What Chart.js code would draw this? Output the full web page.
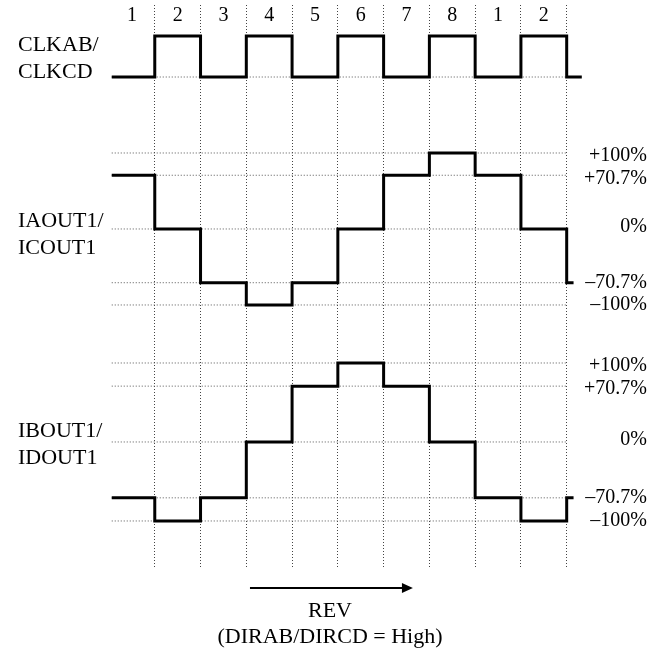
<!DOCTYPE html>
<html>
<head>
<meta charset="utf-8">
<script src="https://cdn.jsdelivr.net/npm/chart.js@4"></script>
<style>
  html, body { margin: 0; padding: 0; background: #fff; }
  #wrap { position: relative; width: 662px; height: 657px; font-family: "Liberation Serif", "Times New Roman", serif; color: #000; }
  canvas { position: absolute; left: 0; top: 0; }
  .sig { position: absolute; left: 18px; font-size: 22px; line-height: 27px; }
  .cap { position: absolute; left: 180px; width: 300px; text-align: center; font-size: 22px; line-height: 26px; }
</style>
</head>
<body>
<div id="wrap">
  <canvas id="timing" width="662" height="657"></canvas>
  <div class="sig" style="top:30px">CLKAB/<br>CLKCD</div>
  <div class="sig" style="top:206px">IAOUT1/<br>ICOUT1</div>
  <div class="sig" style="top:416px">IBOUT1/<br>IDOUT1</div>
  <div class="cap" style="top:597px">REV<br>(DIRAB/DIRCD = High)</div>
</div>
<script>
// step boundaries (one unit = one clock phase)
const stepStarts = [0.06, 1, 2, 3, 4, 5, 6, 7, 8, 9, 10];
const clkEnd = 10.33;
const currentEnd = 10.15;
const gridEnd = 10;

const phaseLabels = ['1', '2', '3', '4', '5', '6', '7', '8', '1', '2'];
const phaseLines = [1, 2, 3, 4, 5, 6, 7, 8, 9, 10];

const clkLevels = [0, 1, 0, 1, 0, 1, 0, 1, 0, 1, 0];
const iaLevels = [70.7, 0, -70.7, -100, -70.7, 0, 70.7, 100, 70.7, 0, -70.7];
const ibLevels = [-70.7, -100, -70.7, 0, 70.7, 100, 70.7, 0, -70.7, -100, -70.7];

const refLevels = [100, 70.7, 0, -70.7, -100];
const refLabels = ['+100%', '+70.7%', '0%', '\u201370.7%', '\u2013100%'];

const arrowSpan = [3.08, 6.64];

function stepData(levels, end) {
  const pts = stepStarts.map((x, i) => ({ x: x, y: levels[i] }));
  pts.push({ x: end, y: levels[levels.length - 1] });
  return pts;
}

function refLine(v, axis) {
  return {
    data: [{ x: stepStarts[0], y: v }, { x: gridEnd, y: v }],
    yAxisID: axis,
    borderColor: '#555',
    borderWidth: 1,
    borderDash: [1, 2],
    pointRadius: 0,
    order: 2
  };
}

function signal(levels, end, axis) {
  return {
    data: stepData(levels, end),
    yAxisID: axis,
    stepped: true,
    borderColor: '#000',
    borderWidth: 3,
    pointRadius: 0,
    borderJoinStyle: 'miter',
    order: 0
  };
}

const datasets = [
  refLine(0, 'yClk'),
  ...refLevels.map(v => refLine(v, 'yA')),
  ...refLevels.map(v => refLine(v, 'yB')),
  signal(clkLevels, clkEnd, 'yClk'),
  signal(iaLevels, currentEnd, 'yA'),
  signal(ibLevels, currentEnd, 'yB')
];

const serif = '"Liberation Serif", "Times New Roman", serif';

const labelPlugin = {
  id: 'labels',
  afterDraw(chart) {
    const ctx = chart.ctx;
    const x = chart.scales.x;
    const area = chart.chartArea;
    ctx.save();
    ctx.fillStyle = '#000';
    ctx.font = '20px ' + serif;
    ctx.textAlign = 'center';
    ctx.textBaseline = 'middle';
    phaseLabels.forEach((t, i) => {
      ctx.fillText(t, x.getPixelForValue(i + 0.5), area.top + 11);
    });
    ctx.textAlign = 'right';
    ['yA', 'yB'].forEach(id => {
      const s = chart.scales[id];
      refLevels.forEach((v, i) => {
        const nudge = v > 0 ? 3 : (v === 0 ? -2 : 0);
        ctx.fillText(refLabels[i], chart.width - 15, s.getPixelForValue(v) + nudge);
      });
    });
    // direction arrow
    const y = area.bottom + 19;
    const x0 = x.getPixelForValue(arrowSpan[0]);
    const x1 = x.getPixelForValue(arrowSpan[1]);
    ctx.strokeStyle = '#000';
    ctx.lineWidth = 2;
    ctx.beginPath();
    ctx.moveTo(x0, y);
    ctx.lineTo(x1 - 8, y);
    ctx.stroke();
    ctx.beginPath();
    ctx.moveTo(x1, y);
    ctx.lineTo(x1 - 11, y - 5);
    ctx.lineTo(x1 - 11, y + 5);
    ctx.closePath();
    ctx.fill();
    ctx.restore();
  }
};

new Chart(document.getElementById('timing'), {
  type: 'line',
  data: { datasets: datasets },
  options: {
    responsive: false,
    animation: false,
    events: [],
    layout: { padding: { left: 109, right: 77, top: 5, bottom: 88 } },
    plugins: { legend: { display: false }, tooltip: { enabled: false } },
    scales: {
      x: {
        type: 'linear',
        min: 0,
        max: 10.4,
        afterBuildTicks: s => { s.ticks = phaseLines.map(v => ({ value: v })); },
        ticks: { display: false },
        grid: { color: '#444', lineWidth: 1, drawTicks: false },
        border: { display: false, dash: [1, 2] }
      },
      yClk: { type: 'linear', position: 'right', stack: 'panels', stackWeight: 109, min: -0.902, max: 1.756, display: false },
      yA: { type: 'linear', position: 'right', stack: 'panels', stackWeight: 220, min: -138.2, max: 151.3, display: false },
      yB: { type: 'linear', position: 'right', stack: 'panels', stackWeight: 235, min: -160.8, max: 136.7, display: false }
    }
  },
  plugins: [labelPlugin]
});
</script>
</body>
</html>
